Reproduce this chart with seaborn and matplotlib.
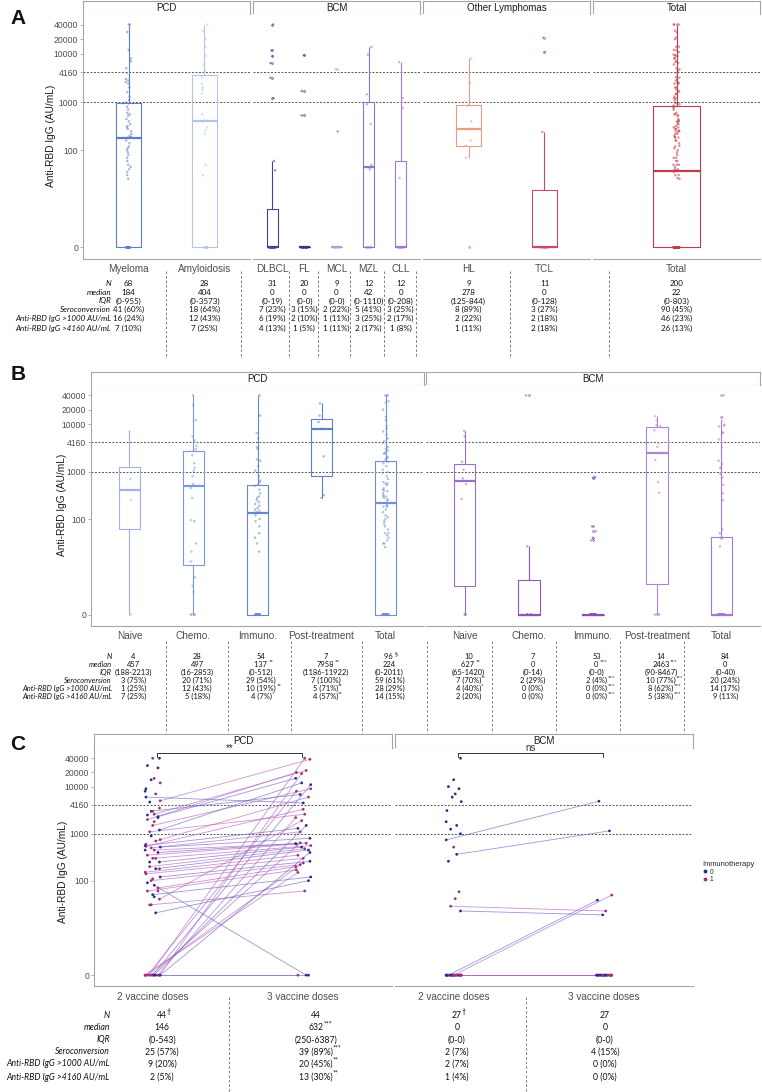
import numpy as np
import pandas as pd
import seaborn as sns
import matplotlib.pyplot as plt
from matplotlib.lines import Line2D
from matplotlib.text import Annotation
from matplotlib.transforms import blended_transform_factory

# ---------------- panel A: anti-RBD IgG per diagnosis (AU/mL) ----------------
myeloma = [40000, 40000, 28000, 12000, 8000, 7000, 5000, 4000, 3000, 2800, 2600, 2400,
           2000, 1600, 1300, 1100, 980, 940, 800, 700, 600, 560, 520, 450, 400, 350, 320,
           300, 280, 250, 220, 200, 190, 185, 183, 160, 140, 120, 110, 100, 90, 80, 70,
           60, 50, 45, 40, 35, 30, 25] + [0] * 18
amyloidosis = [40000, 30000, 20000, 14000, 9000, 6000, 4400, 3300, 2400, 2000, 1800, 1500,
               560, 420, 390, 300, 260, 220, 50, 30] + [0] * 8
dlbcl = [40000, 11700, 8900, 6400, 3200, 1200, 60, 38] + [0] * 23
fl = [9300, 1700, 530] + [0] * 17
mcl = [4750, 250] + [0] * 7
mzl = [13800, 9600, 1450, 900, 350, 50, 40] + [0] * 5
cll = [6700, 1200, 750, 26] + [0] * 8
hl = [8000, 2500, 850, 400, 278, 160, 125, 70, 0]
tcl = [21500, 10800, 240] + [0] * 8

# ---------------- panel B: by treatment ----------------
pcd_naive = [7000, 700, 250, 0]
pcd_chemo = [40000, 25000, 12000, 5500, 4500, 3500, 3000, 2700, 2200, 1500, 1200, 1050,
             800, 550, 450, 280, 95, 90, 30, 20, 12, 5, 3, 2, 0, 0, 0, 0]
pcd_immuno = [40000, 15000, 6500, 5000, 3300, 3000, 1800, 1700, 1300, 1050, 800, 650, 600,
              530, 500, 420, 350, 300, 280, 250, 230, 210, 190, 170, 160, 150, 140, 135,
              120, 100, 90, 70, 50, 40, 30, 20] + [0] * 18
pcd_post = [27000, 15000, 11000, 8000, 2100, 320, 280]
bcm_naive = [7100, 5500, 1600, 1100, 720, 545, 265, 0, 0, 0]
bcm_chemo = [40000, 26, 0, 0, 0, 0, 0]
bcm_immuno = [780, 720, 70, 55, 40, 35] + [0] * 47
bcm_post = [14600, 12000, 9500, 9000, 7400, 4000, 3300, 1770, 600, 360, 0, 0, 0, 0]

# ---------------- panel C: paired 2 vs 3 doses ----------------
pcd_d2 = [0, 0, 0, 0, 0, 0, 0, 0, 0, 0, 0, 0, 20, 30, 40, 50, 60, 70, 80, 100, 120, 140,
          152, 180, 200, 250, 300, 350, 400, 450, 500, 520, 540, 560, 700, 1100, 1200,
          1500, 2000, 2300, 2600, 3000, 5000, 6000]
pcd_d3 = [0, 0, 40000, 19000, 11000, 8000, 2200, 1500, 640, 400, 240, 150, 100, 60, 1900,
          120, 170, 200, 0, 220, 260, 300, 350, 450, 480, 520, 560, 600, 620, 630, 1100,
          800, 3300, 1300, 6000, 2600, 12000, 9000, 20000, 15000, 22000, 6800, 38000, 4500]
pcd_imm = [1, 0, 1, 1, 0, 1, 1, 0, 1, 0, 1, 1, 0, 1, 1, 0, 1, 1, 0, 1, 0, 1,
           1, 0, 1, 0, 1, 1, 0, 1, 1, 0, 1, 0, 1, 1, 0, 1, 1, 0, 1, 0, 1, 0]
pcd_only_d2 = [40000, 40000, 28000, 25000, 15000, 14000, 12000, 9000, 8000, 7000, 4700, 3500,
               3000, 2500, 2200, 1800, 900, 750, 600, 450, 300, 250, 180, 110, 90, 60, 45, 30]
pcd_only_imm = [0, 1, 0, 0, 1, 0, 1, 0, 0, 1, 0, 1, 1, 0, 0, 1, 0, 1, 1, 0, 1, 0, 1, 1, 0, 1, 0, 1]
bcm_d2 = [740, 365, 28, 22, 0, 0] + [0] * 21
bcm_d3 = [4900, 1150, 22, 18, 49, 38] + [0] * 21
bcm_imm = [0, 0, 1, 0, 1, 0, 0, 1, 0, 1, 1, 0, 1, 0, 0, 1, 1, 0, 1, 0, 1, 0, 0, 1, 0, 1, 1]
bcm_only_d2 = [40000, 14000, 10000, 9000, 7000, 6000, 4800, 3100, 1800, 1500, 1250, 1000,
               520, 260, 58, 41]
bcm_only_imm = [0, 0, 0, 0, 0, 0, 0, 0, 0, 0, 0, 0, 1, 0, 1, 1]

# ---------------- summary tables ("^" marks a superscript) ----------------
ROW_LABELS = ["N", "median", "IQR", "Seroconversion",
              "Anti-RBD IgG >1000 AU/mL", "Anti-RBD IgG >4160 AU/mL"]
tab_a = {
    "Myeloma": ["68", "184", "(0-955)", "41 (60%)", "16 (24%)", "7 (10%)"],
    "Amyloidosis": ["28", "404", "(0-3573)", "18 (64%)", "12 (43%)", "7 (25%)"],
    "DLBCL": ["31", "0", "(0-19)", "7 (23%)", "6 (19%)", "4 (13%)"],
    "FL": ["20", "0", "(0-0)", "3 (15%)", "2 (10%)", "1 (5%)"],
    "MCL": ["9", "0", "(0-0)", "2 (22%)", "1 (11%)", "1 (11%)"],
    "MZL": ["12", "42", "(0-1110)", "5 (41%)", "3 (25%)", "2 (17%)"],
    "CLL": ["12", "0", "(0-208)", "3 (25%)", "2 (17%)", "1 (8%)"],
    "HL": ["9", "278", "(125-844)", "8 (89%)", "2 (22%)", "1 (11%)"],
    "TCL": ["11", "0", "(0-128)", "3 (27%)", "2 (18%)", "2 (18%)"],
    "Total": ["200", "22", "(0-803)", "90 (45%)", "46 (23%)", "26 (13%)"],
}
tab_b_pcd = [
    ["4", "457", "(188-2213)", "3 (75%)", "1 (25%)", "7 (25%)"],
    ["28", "497", "(16-2853)", "20 (71%)", "12 (43%)", "5 (18%)"],
    ["54", "137 ^**", "(0-512)", "29 (54%)", "10 (19%)^**", "4 (7%)^*"],
    ["7", "7958^**", "(1186-11922)", "7 (100%)", "5 (71%)^**", "4 (57%)^**"],
    ["96 ^§", "224", "(0-2011)", "59 (61%)", "28 (29%)", "14 (15%)"],
]
tab_b_bcm = [
    ["10", "627 ^**", "(65-1420)", "7 (70%)^**", "4 (40%)^*", "2 (20%)"],
    ["7", "0", "(0-14)", "2 (29%)", "0 (0%)", "0 (0%)"],
    ["53", "0 ^***", "(0-0)", "2 (4%)^***", "0 (0%)^***", "0 (0%)^***"],
    ["14", "2463^***", "(90-8467)", "10 (77%)^***", "8 (62%)^***", "5 (38%)^***"],
    ["84", "0", "(0-40)", "20 (24%)", "14 (17%)", "9 (11%)"],
]
tab_c = [
    ["44^†", "146", "(0-543)", "25 (57%)", "9 (20%)", "2 (5%)"],
    ["44", "632^***", "(250-6387)", "39 (89%)^***", "20 (45%)^**", "13 (30%)^**"],
    ["27^†", "0", "(0-0)", "2 (7%)", "2 (7%)", "1 (4%)"],
    ["27", "0", "(0-0)", "4 (15%)", "0 (0%)", "0 (0%)"],
]

YTICKS = [0, 100, 1000, 4160, 10000, 20000, 40000]
TREAT = ["Naive", "Chemo.", "Immuno.", "Post-treatment", "Total"]
DOSES = ["2 vaccine doses", "3 vaccine doses"]

# ---------------- styling ----------------
W, H = 762, 1092
GREY = "#A6A6A6"
TXT = "#4D4D4D"
TFONT = ["Lato", "DejaVu Sans"]
sns.set_style("white")
plt.rcParams["font.family"] = ["Liberation Sans", "DejaVu Sans"]
np.random.seed(3)

COL_A = {"Myeloma": "#5B7FC6", "Amyloidosis": "#B3C6EA", "DLBCL": "#4C3D96", "FL": "#3F2C88",
         "MCL": "#ABA3D6", "MZL": "#8D74C6", "CLL": "#A27ACF", "HL": "#EB9C86",
         "TCL": "#C9486E", "Total": "#C23A4C"}
COL_B_PCD = ["#9DB3E3", "#7C9ADB", "#6587D2", "#5D80CE", "#6F90D6"]
COL_B_BCM = ["#9A6FC8", "#8E55BE", "#8A4DBA", "#B283D6", "#A678D3"]
LINE_PAL = {"0": "#6E6CC4", "1": "#B865BE"}
PT_PAL = {"0": "#2E2C8C", "1": "#A2307E"}
JIT = [-0.05, 0.02, -0.02, 0.045, 0.0, -0.035, 0.035, 0.01, -0.01, 0.05, -0.045]


def fwd(v):
    return np.log10(np.clip(np.asarray(v, dtype=float) + 1, 1e-6, None))


def inv(p):
    return 10 ** np.asarray(p, dtype=float) - 1


YLIM = (float(inv(-0.23)), float(inv(4.83)))

fig = plt.figure(figsize=(W / 100, H / 100), dpi=100)


def add_ax(x0, y0, x1, y1):
    return fig.add_axes([x0 / W, 1 - y1 / H, (x1 - x0) / W, (y1 - y0) / H])


def facet(x0, x1, sy0, sy1, py1, label):
    s = add_ax(x0, sy0, x1, sy1)
    s.set_xticks([])
    s.set_yticks([])
    for sp in s.spines.values():
        sp.set_color(GREY)
        sp.set_linewidth(0.8)
    s.text(0.5, 0.45, label, ha="center", va="center", fontsize=7, color="#1A1A1A",
           transform=s.transAxes)
    ax = add_ax(x0, sy1, x1, py1)
    ax.set_yscale("function", functions=(fwd, inv))
    ax.set_ylim(*YLIM)
    return ax


def finish(ax, labels, first, xlim):
    ax.set_xlim(*xlim)
    ax.set_ylim(*YLIM)
    ax.set_xticks(range(len(labels)))
    ax.set_xticklabels(labels)
    ax.set_yticks(YTICKS)
    ax.set_yticklabels([str(t) for t in YTICKS])
    ax.yaxis.set_minor_locator(plt.NullLocator())
    ax.set_xlabel("")
    ax.set_ylabel("")
    for t in (1000, 4160):
        ax.axhline(t, color="#555555", lw=0.7, ls=(0, (2, 1.6)), zorder=0.5)
    ax.spines[["top", "right"]].set_visible(False)
    ax.spines["bottom"].set_color(GREY)
    ax.spines["left"].set_color(GREY)
    ax.spines["left"].set_visible(first)
    ax.tick_params(axis="x", length=2.5, width=0.6, color=GREY, pad=1.5,
                   labelsize=7.2, labelcolor=TXT)
    ax.tick_params(axis="y", left=first, labelleft=first, length=2.5, width=0.6,
                   color=GREY, pad=1, labelsize=6.2, labelcolor=TXT)


def boxes(ax, names, groups, colors, ppu):
    df = pd.DataFrame({"grp": np.repeat(names, [len(g) for g in groups]),
                       "val": np.concatenate([np.asarray(g, float) for g in groups])})
    pal = dict(zip(names, colors))
    sns.boxplot(data=df, x="grp", y="val", hue="grp", order=names, hue_order=names,
                palette=pal, fill=False, width=0.34, linewidth=0.8, legend=False, ax=ax,
                showcaps=False, medianprops=dict(linewidth=1.6),
                flierprops=dict(marker="o", markersize=1.2, markeredgewidth=0.5))
    sns.stripplot(data=df, x="grp", y="val", hue="grp", order=names, hue_order=names,
                  palette=pal, jitter=3.0 / ppu, size=1.8, alpha=0.55, linewidth=0,
                  legend=False, ax=ax)


def put(x, y, s, trans, fs, **kw):
    base, _, sup = s.partition("^")
    t = fig.text(x, y, base, transform=trans, fontsize=fs, family=TFONT,
                 color="#111111", va="center", **kw)
    if sup:
        fig.add_artist(Annotation(sup, xy=(1.0, 0.55), xycoords=t, fontsize=fs * 0.8,
                                  family=TFONT, color="#111111", ha="left", va="bottom"))


def table(rows_y, label_right, columns, fs, sep_x, sep_y):
    for y, lab in zip(rows_y, ROW_LABELS):
        put(label_right / W, 1 - y / H, lab, fig.transFigure, fs, ha="right",
            style="italic")
    for trans, x, vals in columns:
        for y, v in zip(rows_y, vals):
            put(x, 1 - y / H, v, trans, fs, ha="center")
    for x in sep_x:
        fig.add_artist(Line2D([x / W, x / W], [1 - sep_y[0] / H, 1 - sep_y[1] / H],
                              transform=fig.transFigure, color="#666666", lw=0.6,
                              ls=(0, (3, 2.5))))


def ylabel(x, y):
    fig.text(x / W, 1 - y / H, "Anti-RBD IgG (AU/mL)", rotation=90, ha="center",
             va="center", fontsize=7.3, color="#1A1A1A")


def letter(y, s):
    fig.text(18 / W, 1 - y / H, s, ha="center", va="center", fontsize=15,
             fontweight="bold", color="#111111")


# ======================= panel A =======================
a_values = {"Myeloma": myeloma, "Amyloidosis": amyloidosis, "DLBCL": dlbcl, "FL": fl,
            "MCL": mcl, "MZL": mzl, "CLL": cll, "HL": hl, "TCL": tcl,
            "Total": myeloma + amyloidosis + dlbcl + fl + mcl + mzl + cll + hl + tcl}
a_facets = [("PCD", ["Myeloma", "Amyloidosis"], 83, 250),
            ("BCM", ["DLBCL", "FL", "MCL", "MZL", "CLL"], 253, 420),
            ("Other Lymphomas", ["HL", "TCL"], 423, 590),
            ("Total", ["Total"], 593, 760)]
a_cols = []
for k, (lab, names, x0, x1) in enumerate(a_facets):
    ax = facet(x0, x1, 1, 13.5, 258.5, lab)
    n = len(names)
    boxes(ax, names, [a_values[c] for c in names], [COL_A[c] for c in names],
          (x1 - x0) / (n + 0.2))
    finish(ax, names, k == 0, (-0.6, n - 0.4))
    tr = blended_transform_factory(ax.transData, fig.transFigure)
    a_cols += [(tr, i, tab_a[c]) for i, c in enumerate(names)]
letter(18, "A")
ylabel(51, 136)
table([283, 292.2, 301, 309.8, 318.8, 328], 111, a_cols, 5.8,
      [166, 241, 289, 318, 350, 384, 416, 510, 609], (271, 356))

# ======================= panel B =======================
b_facets = [("PCD", [pcd_naive, pcd_chemo, pcd_immuno, pcd_post, myeloma + amyloidosis],
             COL_B_PCD, tab_b_pcd, 91, 424),
            ("BCM", [bcm_naive, bcm_chemo, bcm_immuno, bcm_post, dlbcl + fl + mcl + mzl + cll],
             COL_B_BCM, tab_b_bcm, 426, 760)]
b_cols = []
for k, (lab, groups, cols, tab, x0, x1) in enumerate(b_facets):
    ax = facet(x0, x1, 371.5, 384.5, 625.5, lab)
    boxes(ax, TREAT, groups, cols, (x1 - x0) / 5.2)
    finish(ax, TREAT, k == 0, (-0.6, 4.6))
    tr = blended_transform_factory(ax.transData, fig.transFigure)
    b_cols += [(tr, i + 0.06, tab[i]) for i in range(5)]
letter(375, "B")
ylabel(62, 505)
table([656.5, 664.5, 672.5, 680.5, 688.5, 696.5], 112, b_cols, 5.4,
      [166, 228, 291, 362, 427, 492, 556, 620, 684], (641, 733))

# ======================= panel C =======================
c_facets = [("PCD", pcd_d2, pcd_d3, pcd_imm, pcd_only_d2, pcd_only_imm, "**", 94, 392),
            ("BCM", bcm_d2, bcm_d3, bcm_imm, bcm_only_d2, bcm_only_imm, "ns", 395, 693)]
for k, (lab, d2, d3, imm, only, only_imm, sig, x0, x1) in enumerate(c_facets):
    ax = facet(x0, x1, 734, 747.5, 986, lab)
    m = len(JIT)
    lines = pd.DataFrame({
        "pid": list(range(len(d2))) * 2,
        "xpos": [0 + JIT[i % m] for i in range(len(d2))] + [1 + JIT[(i + 5) % m] for i in range(len(d3))],
        "val": list(d2) + list(d3),
        "imm": [str(g) for g in imm] * 2,
    })
    extra = pd.DataFrame({"xpos": [0 + JIT[(i + 3) % m] for i in range(len(only))],
                          "val": only, "imm": [str(g) for g in only_imm]})
    sns.lineplot(data=lines, x="xpos", y="val", units="pid", estimator=None, hue="imm",
                 palette=LINE_PAL, linewidth=0.6, alpha=0.7, legend=False, sort=False, ax=ax)
    pts = pd.concat([lines[["xpos", "val", "imm"]], extra], ignore_index=True)
    sns.scatterplot(data=pts, x="xpos", y="val", hue="imm", palette=PT_PAL, s=4,
                    linewidth=0, legend=False, ax=ax, zorder=3)
    finish(ax, DOSES, k == 0, (-0.39, 1.59))
    ax.plot([0.03, 0.03, 0.99, 0.99], [43000, 51000, 51000, 43000], color="#333333",
            lw=0.7, clip_on=False)
    ax.text(0.51, 52000, sig, ha="center", va="bottom", fontsize=7, color="#333333")
letter(745, "C")
ylabel(63, 872)

handles = [Line2D([], [], marker="o", ls="", ms=1.8, color=PT_PAL[g]) for g in ("0", "1")]
leg = fig.legend(handles, ["0", "1"], title="Immunotherapy", loc="upper left",
                 bbox_to_anchor=(702 / W, 1 - 861 / H), frameon=False, fontsize=4.8,
                 title_fontsize=5.4, handlelength=0.8, handletextpad=0.3,
                 labelspacing=0.1, borderaxespad=0, borderpad=0)
leg._legend_box.align = "left"

c_x = [162, 316, 457, 605]
table([1015, 1028, 1040, 1052, 1064, 1077], 110,
      [(fig.transFigure, x / W, vals) for x, vals in zip(c_x, tab_c)], 6.2,
      [229, 526], (997, 1092))

fig.savefig("out.png", dpi=100, facecolor="white")
